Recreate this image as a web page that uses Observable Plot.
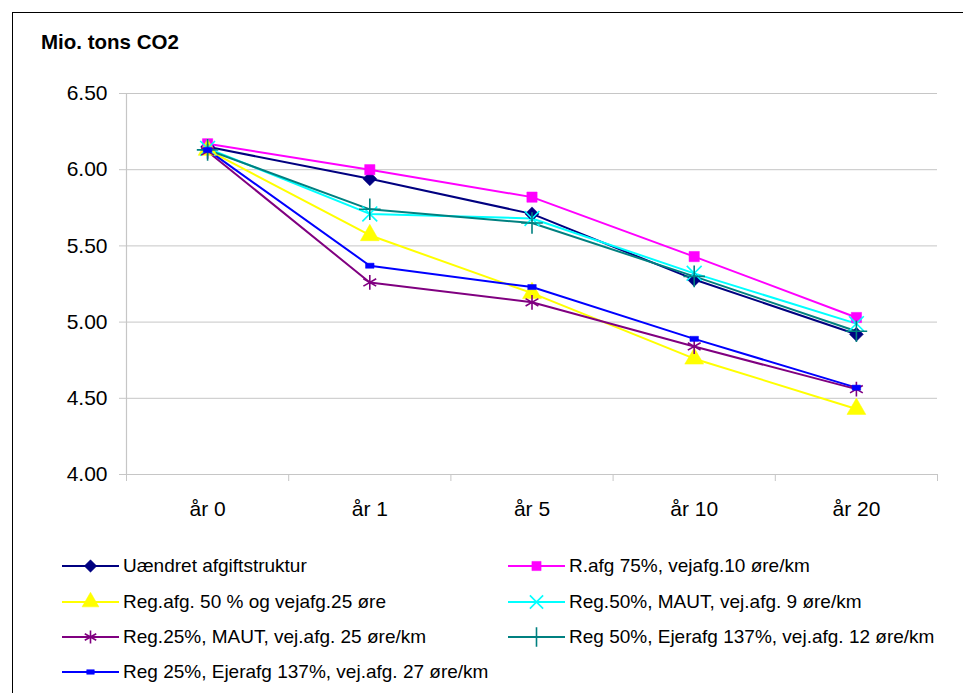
<!DOCTYPE html>
<html>
<head>
<meta charset="utf-8">
<script src="https://cdn.jsdelivr.net/npm/d3@7"></script>
<script src="https://cdn.jsdelivr.net/npm/@observablehq/plot@0.6"></script>
<style>
  html, body { margin: 0; padding: 0; background: #fff; }
  body { position: relative; width: 963px; height: 693px; overflow: hidden; font-family: "Liberation Sans", Arial, sans-serif; }
  #frame { position: absolute; left: 12px; top: 12px; width: 1000px; height: 800px; border: 1.5px solid #000; box-sizing: border-box; }
  #ylabel { position: absolute; left: 41px; top: 30px; font-weight: bold; font-size: 20.5px; color: #000; }
  #chart { position: absolute; left: 0; top: 0; }
  #legend { position: absolute; left: 0; top: 0; width: 963px; height: 693px; }
  .item { position: absolute; display: flex; align-items: center; font-size: 19px; color: #000; white-space: nowrap; }
  .item svg { margin-right: 4px; }
</style>
</head>
<body>
<div id="frame"></div>
<div id="ylabel">Mio. tons CO2</div>
<div id="chart"></div>
<div id="legend"></div>
<script>
const years = ["år 0", "år 1", "år 5", "år 10", "år 20"];
const seriesNames = [
  "Uændret afgiftstruktur",
  "R.afg 75%, vejafg.10 øre/km",
  "Reg.afg. 50 % og vejafg.25 øre",
  "Reg.50%, MAUT, vej.afg. 9 øre/km",
  "Reg.25%, MAUT, vej.afg. 25 øre/km",
  "Reg 50%, Ejerafg 137%, vej.afg. 12 øre/km",
  "Reg 25%, Ejerafg 137%, vej.afg. 27 øre/km"
];
const uaendret   = [6.15, 5.94, 5.71, 5.28, 4.92];
const rafg75     = [6.17, 6.00, 5.82, 5.43, 5.03];
const regafg50   = [6.13, 5.57, 5.19, 4.76, 4.43];
const reg50maut  = [6.14, 5.71, 5.68, 5.32, 4.99];
const reg25maut  = [6.12, 5.26, 5.13, 4.84, 4.56];
const reg50ejer  = [6.13, 5.74, 5.65, 5.30, 4.94];
const reg25ejer  = [6.13, 5.37, 5.23, 4.89, 4.57];
const yTicks = [4.0, 4.5, 5.0, 5.5, 6.0, 6.5];

const seriesValues = [uaendret, rafg75, regafg50, reg50maut, reg25maut, reg50ejer, reg25ejer];
const colors = ["#000080", "#ff00ff", "#ffff00", "#00ffff", "#800080", "#008080", "#0000ff"];

const dash = {
  draw(ctx, size) {
    const s = Math.sqrt(size);
    ctx.rect(-s * 0.5, -s * 0.3, s, s * 0.6);
  }
};
const markerSpec = [
  {symbol: "diamond2", filled: true, r: 6.3},
  {symbol: "square", filled: true, r: 5.8},
  {symbol: "triangle", filled: true, r: 7},
  {symbol: "times", filled: false, r: 6.8},
  {symbol: "asterisk", filled: false, r: 7},
  {symbol: "plus", filled: false, r: 7},
  {symbol: dash, filled: true, r: 4.8}
];

const data = [];
seriesNames.forEach((s, si) => {
  seriesValues[si].forEach((v, i) => data.push({series: s, si, i, year: years[i], value: v}));
});

const gray = "#c6c6c6";
const marks = [
  Plot.gridY(yTicks, {stroke: gray, strokeOpacity: 1, strokeWidth: 1}),
  Plot.ruleX([0], {stroke: gray, strokeWidth: 1.2}),
  Plot.ruleY([4], {stroke: gray, strokeWidth: 1.2}),
  Plot.axisY({ticks: yTicks, tickSize: 7, tickPadding: 12, tickFormat: d3.format(".2f"), stroke: gray, fill: "#000", fontSize: 21, label: null}),
  Plot.axisX({ticks: d3.range(0, years.length + 1), tickSize: 7, tickFormat: () => "", stroke: gray, label: null}),
  Plot.axisX({ticks: years.map((d, i) => i + 0.5), tickSize: 0, tickPadding: 27, tickFormat: t => years[Math.round(t - 0.5)], fill: "#000", fontSize: 21, label: null})
];
seriesNames.forEach((s, si) => {
  const d = data.filter(p => p.si === si);
  marks.push(Plot.line(d, {x: p => p.i + 0.5, y: "value", stroke: colors[si], strokeWidth: 2}));
});
seriesNames.forEach((s, si) => {
  const d = data.filter(p => p.si === si);
  const m = markerSpec[si];
  marks.push(Plot.dot(d, {
    x: p => p.i + 0.5, y: "value", symbol: () => m.symbol, r: m.r,
    fill: m.filled ? colors[si] : "none",
    stroke: colors[si], strokeWidth: m.filled ? 0.5 : 1.6
  }));
});

const chart = Plot.plot({
  width: 963, height: 530,
  marginLeft: 126, marginRight: 26, marginTop: 93, marginBottom: 56,
  style: {fontFamily: "'Liberation Sans', Arial, sans-serif", fontSize: "21px", background: "transparent", overflow: "visible"},
  x: {type: "linear", domain: [0, years.length], axis: null, label: null},
  y: {domain: [4, 6.5], axis: null, label: null},
  symbol: {type: "identity"},
  marks
});
document.getElementById("chart").appendChild(chart);

// Legend
const legend = document.getElementById("legend");
const legendPos = [
  [62, 566], [508, 566],
  [62, 602], [508, 602],
  [62, 637], [508, 637],
  [62, 672]
];
seriesNames.forEach((s, si) => {
  const m = markerSpec[si];
  const item = document.createElement("div");
  item.className = "item";
  item.style.left = legendPos[si][0] + "px";
  item.style.top = (legendPos[si][1] - 12) + "px";
  item.style.height = "24px";
  const ns = "http://www.w3.org/2000/svg";
  const svg = document.createElementNS(ns, "svg");
  svg.setAttribute("width", 57);
  svg.setAttribute("height", 24);
  const line = document.createElementNS(ns, "line");
  line.setAttribute("x1", 0); line.setAttribute("x2", 57);
  line.setAttribute("y1", 12); line.setAttribute("y2", 12);
  line.setAttribute("stroke", colors[si]); line.setAttribute("stroke-width", 2);
  svg.appendChild(line);
  const symMap = {diamond2: d3.symbolDiamond2, square: d3.symbolSquare, triangle: d3.symbolTriangle, times: d3.symbolTimes, asterisk: d3.symbolAsterisk, plus: d3.symbolPlus};
  const symType = typeof m.symbol === "string" ? symMap[m.symbol] : m.symbol;
  const path = document.createElementNS(ns, "path");
  path.setAttribute("d", d3.symbol(symType, m.r * m.r * Math.PI * 0.8)());
  path.setAttribute("transform", "translate(28.5,12)");
  path.setAttribute("fill", m.filled ? colors[si] : "none");
  path.setAttribute("stroke", colors[si]);
  path.setAttribute("stroke-width", m.filled ? 0.5 : 1.6);
  svg.appendChild(path);
  item.appendChild(svg);
  const span = document.createElement("span");
  span.textContent = s;
  item.appendChild(span);
  legend.appendChild(item);
});
</script>
</body>
</html>
